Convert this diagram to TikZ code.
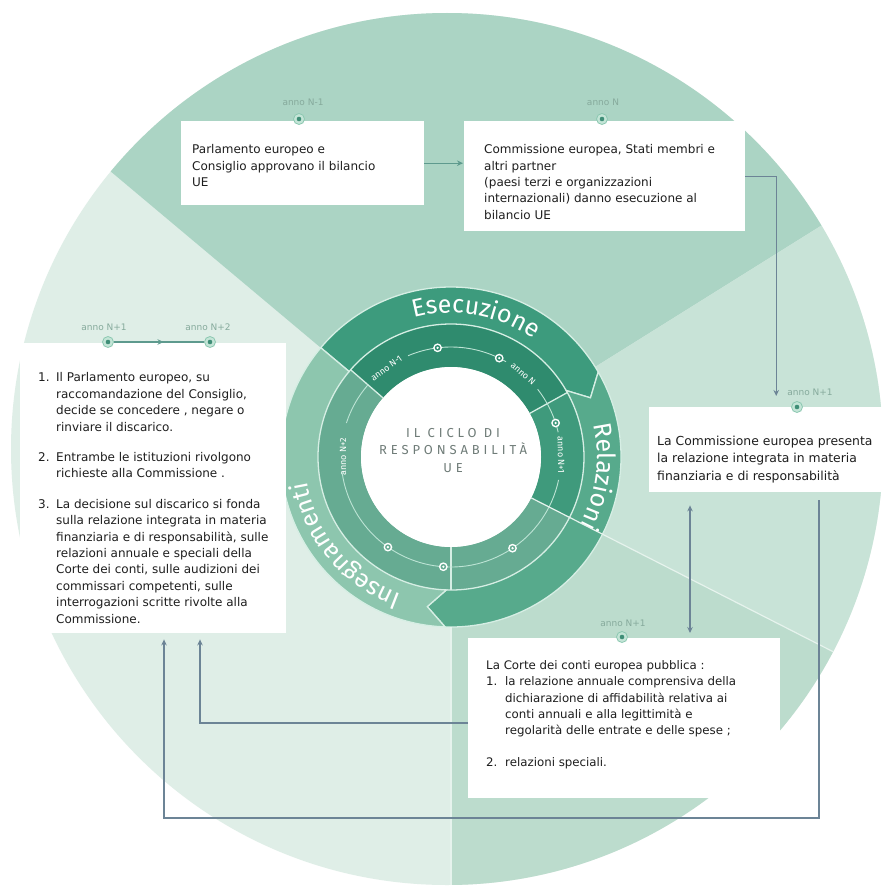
\documentclass[tikz,border=0pt]{standalone}
\usepackage{fontspec}
\setmainfont{DejaVu Sans}
\newfontfamily\firafont{Fira Sans}
\usetikzlibrary{arrows.meta,decorations.text,decorations.markings,calc}
\definecolor{secLeft}{HTML}{DFEEE7}
\definecolor{secTop}{HTML}{ABD4C4}
\definecolor{secRight}{HTML}{C8E3D7}
\definecolor{secBR}{HTML}{BCDCCD}
\definecolor{oEse}{HTML}{3D9B7D}
\definecolor{oRel}{HTML}{57AA8C}
\definecolor{oIns}{HTML}{8DC6AE}
\definecolor{iTop}{HTML}{2F8B6E}
\definecolor{iRight}{HTML}{3F9A7C}
\definecolor{iRest}{HTML}{66AB92}
\definecolor{ringLine}{HTML}{D6EEE4}
\definecolor{trackCol}{HTML}{BDE4D5}
\definecolor{boxText}{HTML}{1E1E1E}
\definecolor{labCol}{HTML}{86AA9C}
\definecolor{ctext}{HTML}{6F7C78}
\definecolor{connCol}{HTML}{6C8496}
\definecolor{connTeal}{HTML}{5E9A8E}
\definecolor{dotBg}{HTML}{C4E5D7}
\definecolor{dotRing}{HTML}{8CC8B1}
\definecolor{dotCore}{HTML}{3F8E77}
\definecolor{secLineCol}{HTML}{E6F3ED}
\begin{document}
\begin{tikzpicture}[x=1pt,y=-1pt,
  box/.style={fill=white, inner sep=0pt, anchor=north west, draw=none},
  txt/.style={anchor=north west, inner sep=0pt, align=left, text=boxText, font=\fontsize{12}{16.3}\selectfont},
  lab/.style={text=labCol, font=\fontsize{9}{10}\selectfont, inner sep=0pt},
  bdot/.style={circle, fill=dotBg, draw=dotRing, line width=0.8pt, minimum size=11pt, inner sep=0pt},
  conn/.style={draw=connCol, line width=1.1pt},
  tipA/.style={-{Stealth[length=6pt,width=5.5pt]}},
  ilabel/.style={text=white, font=\firafont\fontsize{9}{10}\selectfont, inner sep=0pt},
  ringseg/.style={draw=ringLine, line width=1.3pt},
  track/.style={draw=trackCol, line width=0.9pt},
  secline/.style={draw=secLineCol, line width=1.2pt}
]
\useasboundingbox (0,0) rectangle (885,891);
\fill[white] (0,0) rectangle (885,891);

% ---------- disc and sectors ----------
\begin{scope}
  \clip (447,449) circle[radius=436pt];
  \fill[secLeft] (0,0) rectangle (885,891);
  \begin{scope}[shift={(451,457)}]
    \fill[secTop] (0,0) -- (140:900pt) -- (90:900pt) -- (32:900pt) -- cycle;
    \fill[secRight] (0,0) -- (32:900pt) -- (0:900pt) -- (-27:900pt) -- cycle;
    \fill[secBR] (0,0) -- (-27:900pt) -- (-60:900pt) -- (-90:900pt) -- cycle;
  \end{scope}
\end{scope}

% ---------- ring ----------
\begin{scope}[shift={(451,457)}]
  % inner band
  \fill[iTop] (139:133pt) arc[start angle=139, end angle=29, radius=133pt] -- (29:90pt) arc[start angle=29, end angle=139, radius=90pt] -- cycle;
  \fill[iRight] (29:133pt) arc[start angle=29, end angle=-27, radius=133pt] -- (-27:90pt) arc[start angle=-27, end angle=29, radius=90pt] -- cycle;
  \fill[iRest] (-27:133pt) arc[start angle=-27, end angle=-221, radius=133pt] -- (139:90pt) arc[start angle=-221, end angle=-27, radius=90pt] -- cycle;
  \fill[white] (0,0) circle[radius=90pt];
  % outer band segments
  \filldraw[ringseg, fill=oEse] (140:170pt) arc[start angle=140, end angle=30, radius=170pt] -- (23:151.5pt) -- (30:133pt) arc[start angle=30, end angle=140, radius=133pt] -- cycle;
  \filldraw[ringseg, fill=oRel] (30:170pt) arc[start angle=30, end angle=-92, radius=170pt] -- (-99:151.5pt) -- (-92:133pt) arc[start angle=-92, end angle=30, radius=133pt] -- (23:151.5pt) -- cycle;
  \filldraw[ringseg, fill=oIns] (-92:170pt) arc[start angle=-92, end angle=-220, radius=170pt] -- (140:133pt) arc[start angle=140, end angle=268, radius=133pt] -- (-99:151.5pt) -- cycle;
  % inner boundaries
  \draw[ringseg] (139:90pt) -- (139:133pt);
  \draw[ringseg] (29:90pt) -- (29:133pt);
  \draw[ringseg] (-90:90pt) -- (-90:133pt);
  % track
  \draw[track] (113:110pt) arc[start angle=113, end angle=60, radius=110pt];
  \draw[track] (38:110pt) arc[start angle=38, end angle=13, radius=110pt];
  \draw[track] (-12:110pt) arc[start angle=-12, end angle=-172, radius=110pt];
  \draw[track] (162:110pt) arc[start angle=162, end angle=139, radius=110pt];
  % track dots
  \foreach \a/\c in {97/iTop, 64/iTop, 18/iRight, -56/iRest, -94/iRest, -125/iRest} {
    \fill[white] (\a:110pt) circle[radius=4.4pt];
    \fill[\c] (\a:110pt) circle[radius=2.8pt];
    \fill[white] (\a:110pt) circle[radius=1.3pt];
  }
  % inner labels
  \node[ilabel, rotate=36] (il1) at (126:110pt) {anno N-1};
  \node[ilabel, rotate=-41] (il2) at (49:110pt) {anno N};
  \node[ilabel, rotate=-89] (il3) at (1:110pt) {anno N+1};
  \node[ilabel, rotate=90] (il4) at (180:108pt) {anno N+2};
  % ring titles
  \path[decorate, decoration={text along path, text align=center,
     text={|\color{white}\firafont\fontsize{25}{25}\selectfont|Esecuzione}}]
     (130:144pt) arc[start angle=130, end angle=30, radius=144pt];
  \path[decorate, decoration={text along path, text align=center,
     text={|\color{white}\firafont\fontsize{25}{25}\selectfont|Relazioni}}]
     (52:146pt) arc[start angle=52, end angle=-67, radius=146pt];
  \path[decorate, decoration={text along path, text align=center,
     text={|\color{white}\firafont\fontsize{25}{25}\selectfont|Insegnamenti}}]
     (-80:146pt) arc[start angle=-80, end angle=-200, radius=146pt];
\end{scope}

% sector lines over the ring
\begin{scope}
  \clip (447,449) circle[radius=436pt];
  \begin{scope}[shift={(451,457)}]
    \draw[secline] (-27:90pt) -- (-27:900pt);
    \draw[secline] (-90:170pt) -- (-90:900pt);
  \end{scope}
\end{scope}

% centre title
\node[font=\firafont\fontsize{13}{17.5}\selectfont\addfontfeature{LetterSpace=30}, text=ctext, align=center, inner sep=0pt] (title) at (453,450.5) {IL CICLO DI\\RESPONSABILITÀ\\UE};

% ---------- boxes ----------
\node[box, minimum width=243pt, minimum height=84pt] (A) at (181,121) {};
\node[box, minimum width=281pt, minimum height=110pt] (B) at (464,121) {};
\node[box, minimum width=236pt, minimum height=85pt] (C) at (649,407) {};
\node[box, minimum width=312pt, minimum height=160pt] (D) at (468,638) {};
\node[box, minimum width=266pt, minimum height=290pt] (E) at (20,343) {};

\node[txt] (tA) at (192,144.5) {Parlamento europeo e\\Consiglio approvano il bilancio\\UE};
\node[txt] (tB) at (484,144.5) {Commissione europea, Stati membri e\\altri partner\\(paesi terzi e organizzazioni\\internazionali) danno esecuzione al\\bilancio UE};
\node[txt, font=\fontsize{12.4}{17.5}\selectfont] (tC) at (657,435.5) {La Commissione europea presenta\\la relazione integrata in materia\\finanziaria e di responsabilità};
\node[txt, font=\fontsize{11.8}{16.2}\selectfont] (tD) at (486,660.5) {La Corte dei conti europea pubblica :\\
\makebox[19pt][l]{1.}la relazione annuale comprensiva della\\
\hspace*{19pt}dichiarazione di affidabilità relativa ai\\
\hspace*{19pt}conti annuali e alla legittimità e\\
\hspace*{19pt}regolarità delle entrate e delle spese ;\\[16pt]
\makebox[19pt][l]{2.}relazioni speciali.};
\node[txt, font=\fontsize{12}{16.4}\selectfont] (tE) at (38,372.5) {\makebox[18pt][l]{1.}Il Parlamento europeo, su\\
\hspace*{18pt}raccomandazione del Consiglio,\\
\hspace*{18pt}decide se concedere , negare o\\
\hspace*{18pt}rinviare il discarico.\\[14pt]
\makebox[18pt][l]{2.}Entrambe le istituzioni rivolgono\\
\hspace*{18pt}richieste alla Commissione .\\[14pt]
\makebox[18pt][l]{3.}La decisione sul discarico si fonda\\
\hspace*{18pt}sulla relazione integrata in materia\\
\hspace*{18pt}finanziaria e di responsabilità, sulle\\
\hspace*{18pt}relazioni annuale e speciali della\\
\hspace*{18pt}Corte dei conti, sulle audizioni dei\\
\hspace*{18pt}commissari competenti, sulle\\
\hspace*{18pt}interrogazioni scritte rivolte alla\\
\hspace*{18pt}Commissione.};

% ---------- connectors ----------
\coordinate (cR) at (819,818);
\coordinate (cL) at (164,818);
\coordinate (cM) at (200,723);
\coordinate (xCD) at (690,500);
\draw[conn, draw=connTeal, tipA, shorten >=1pt] (A.east) -- (A.east -| B.west);
\draw[conn, tipA, shorten >=11pt] (B.east) -| ([xshift=9pt]C.north);
\draw[conn, {Stealth[length=6pt,width=5.5pt]}-{Stealth[length=6pt,width=5.5pt]}, shorten <=13pt, shorten >=5pt] (xCD |- C.south) -- (xCD |- D.north);
\draw[conn, tipA, shorten >=6pt] ([yshift=-8pt]cR |- C.south) -- (cR) -- (cL) -- (cL |- E.south);
\draw[conn, tipA, shorten >=6pt] (cM -| D.west) -- (cM) -- (cM |- E.south);

% ---------- year markers ----------
\node[lab] (lA) at (303,102) {anno N-1};
\node[lab] (lB) at (603,102) {anno N};
\node[lab] (lC) at (810,392) {anno N+1};
\node[lab] (lD) at (623,623) {anno N+1};
\node[lab] (lE1) at (104,327) {anno N+1};
\node[lab] (lE2) at (208,327) {anno N+2};

\node[bdot] (dA) at (299,119) {};
\node[bdot] (dB) at (602,119) {};
\node[bdot] (dC) at (797,407) {};
\node[bdot] (dD) at (622,637) {};
\node[bdot] (dE1) at (108,342) {};
\node[bdot] (dE2) at (210,342) {};
\foreach \d in {dA,dB,dC,dD,dE1,dE2} { \fill[dotCore] (\d.center) circle[radius=2.3pt]; }

\draw[conn, draw=connTeal, postaction={decorate, decoration={markings, mark=at position 0.55 with {\arrow[color=connTeal]{Stealth[length=6pt,width=5.5pt]}}}}] (dE1) -- (dE2);
\end{tikzpicture}
\end{document}
